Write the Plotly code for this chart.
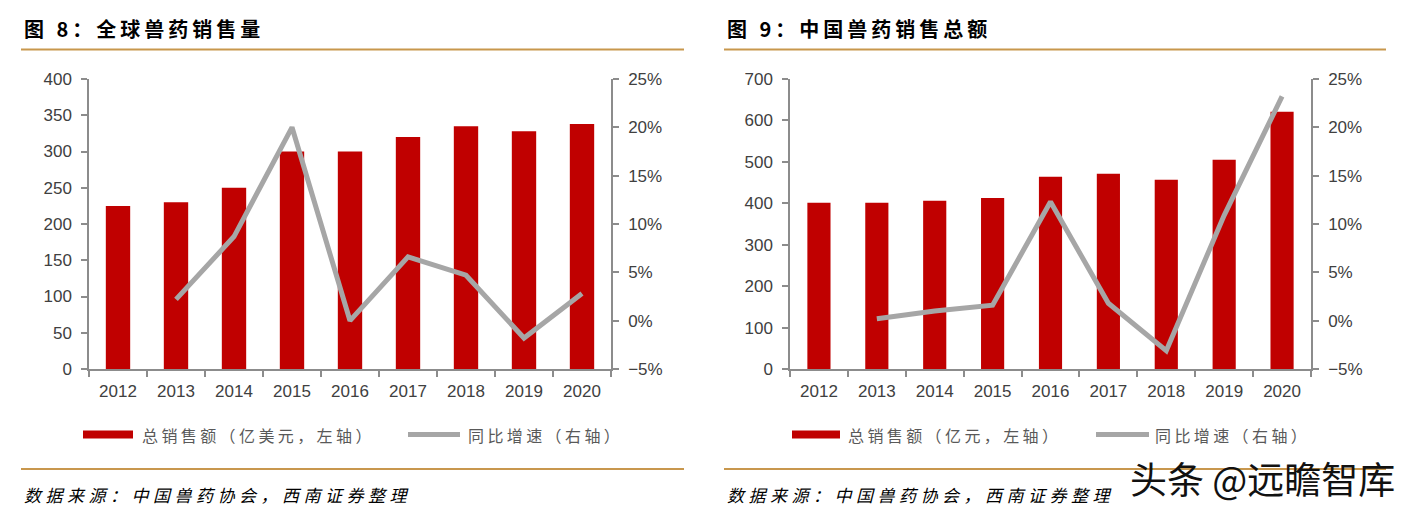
import plotly.graph_objects as go

W, H = 1412, 509

years = ["2012", "2013", "2014", "2015", "2016", "2017", "2018", "2019", "2020"]
global_sales = [225, 230, 250, 300, 300, 320, 335, 328, 338]
global_growth = [None, 0.022, 0.087, 0.200, 0.000, 0.066, 0.047, -0.018, 0.028]
china_sales = [401, 401, 406, 413, 464, 471, 457, 505, 621]
china_growth = [None, 0.002, 0.010, 0.016, 0.123, 0.018, -0.031, 0.109, 0.232]

title_left = "图 8：全球兽药销售量"
title_right = "图 9：中国兽药销售总额"
legend_bar_left = "总销售额（亿美元，左轴）"
legend_bar_right = "总销售额（亿元，左轴）"
legend_line = "同比增速（右轴）"
source = "数据来源：中国兽药协会，西南证券整理"
watermark = "头条 @远瞻智库"

BAR = "#C00000"
LINE = "#A6A6A6"
AX = "#8C8C8C"
TICK_FONT = dict(family="Liberation Sans, Arial, sans-serif", size=17, color="#404040")
CJK = "Noto Sans CJK SC"
ORANGE = "#C8974D"


def px(x):
    return x / W


def py(y):
    return 1 - y / H


fig = go.Figure()

fig.add_trace(go.Bar(x=years, y=global_sales, marker_color=BAR, width=0.42,
                     xaxis="x", yaxis="y", showlegend=False))
fig.add_trace(go.Scatter(x=years, y=global_growth, mode="lines",
                         line=dict(color=LINE, width=5), xaxis="x", yaxis="y2",
                         showlegend=False))
fig.add_trace(go.Bar(x=years, y=china_sales, marker_color=BAR, width=0.40,
                     xaxis="x2", yaxis="y3", showlegend=False))
fig.add_trace(go.Scatter(x=years, y=china_growth, mode="lines",
                         line=dict(color=LINE, width=5), xaxis="x2", yaxis="y4",
                         showlegend=False))

ydom = [py(369), py(79)]
xcommon = dict(type="category", showline=True, linecolor=AX, linewidth=1.5,
               ticks="outside", tickson="boundaries", ticklen=6, tickcolor=AX,
               tickwidth=1.5, tickfont=TICK_FONT, showgrid=False, zeroline=False,
               ticklabelstandoff=6, fixedrange=True, automargin=False)
ycommon = dict(showline=True, linecolor=AX, linewidth=1.5, ticks="outside",
               ticklen=6, tickcolor=AX, tickwidth=1.5, tickfont=TICK_FONT,
               showgrid=False, zeroline=False, ticklabelstandoff=6, fixedrange=True,
               automargin=False)

fig.update_layout(
    template="none",
    width=W, height=H,
    autosize=False,
    margin=dict(l=0, r=0, t=0, b=0, pad=0),
    paper_bgcolor="white", plot_bgcolor="white",
    bargap=0.5,
    xaxis=dict(domain=[px(89), px(611)], anchor="y", **xcommon),
    xaxis2=dict(domain=[px(790), px(1311)], anchor="y3", **xcommon),
    yaxis=dict(domain=ydom, anchor="x", range=[0, 400], dtick=50, side="left", **ycommon),
    yaxis2=dict(domain=ydom, anchor="x", overlaying="y", side="right",
                range=[-0.05, 0.25], dtick=0.05, tickformat=".0%", **ycommon),
    yaxis3=dict(domain=ydom, anchor="x2", range=[0, 700], dtick=100, side="left", **ycommon),
    yaxis4=dict(domain=ydom, anchor="x2", overlaying="y3", side="right",
                range=[-0.05, 0.25], dtick=0.05, tickformat=".0%", **ycommon),
)

shapes = []
annotations = []


def hline(x0, x1, y, color, width):
    shapes.append(dict(type="line", xref="paper", yref="paper", x0=px(x0), x1=px(x1),
                       y0=py(y), y1=py(y), line=dict(color=color, width=width)))


def text(x, y, s, size, color, bold=False, italic=False, spacing=0, xanchor="left", family=CJK):
    style = f"letter-spacing:{spacing}px" if spacing else ""
    content = s
    if bold:
        content = f"<b>{content}</b>"
    if italic:
        content = f"<i>{content}</i>"
    if style:
        content = f'<span style="{style}">{content}</span>'
    annotations.append(dict(xref="paper", yref="paper", x=px(x), y=py(y), text=content,
                            showarrow=False, xanchor=xanchor, yanchor="middle",
                            font=dict(family=family, size=size, color=color)))


# panel decorations
for (x0, x1) in [(21, 684), (724, 1386)]:
    hline(x0, x1, 49.5, ORANGE, 2)
    hline(x0, x1, 469, ORANGE, 2)

text(22, 29, title_left, 20, "#000000", bold=True, spacing=4)
text(725, 29, title_right, 20, "#000000", bold=True, spacing=4)

# legends
for (rx0, rx1, tx, lx0, lx1, ltx, lab) in [
    (83, 133, 140, 408, 460, 466, legend_bar_left),
    (792, 840, 846, 1096, 1149, 1153, legend_bar_right),
]:
    shapes.append(dict(type="rect", xref="paper", yref="paper", x0=px(rx0), x1=px(rx1),
                       y0=py(438.5), y1=py(430.5), fillcolor=BAR, line=dict(width=0)))
    text(tx, 435, lab, 16, "#595959", spacing=3.4)
    shapes.append(dict(type="line", xref="paper", yref="paper", x0=px(lx0), x1=px(lx1),
                       y0=py(434.5), y1=py(434.5), line=dict(color=LINE, width=5)))
    text(ltx, 435, legend_line, 16, "#595959", spacing=3.4)

text(22, 494, source, 17, "#000000", italic=True, spacing=4.5)
text(725, 494, source, 17, "#000000", italic=True, spacing=4.5)

text(1128, 478, watermark, 37, "#111111")

fig.update_layout(shapes=shapes, annotations=annotations)

fig.write_html(
    "out.html",
    config={"displayModeBar": False},
    post_script="document.body.style.margin='0';document.body.style.overflow='hidden';",
)
